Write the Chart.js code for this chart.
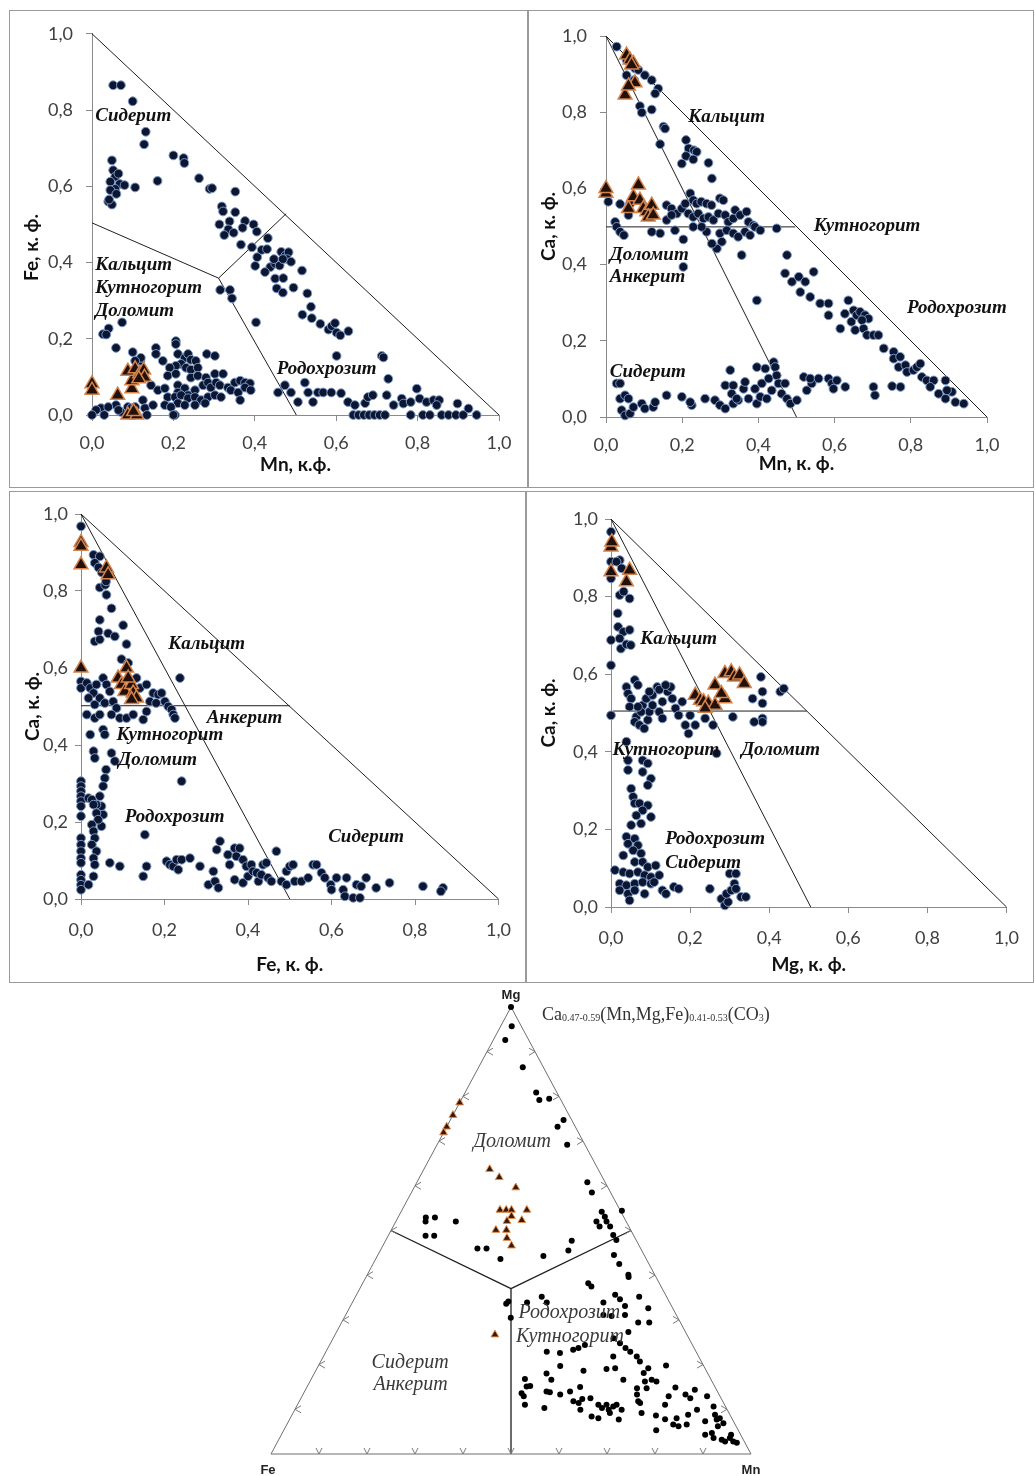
<!DOCTYPE html>
<html>
<head>
<meta charset="utf-8">
<script src="https://cdn.jsdelivr.net/npm/chart.js@4.4.1/dist/chart.umd.min.js"></script>
<style>
  body { margin: 0; background: #fff; width: 1035px; height: 1476px; position: relative; overflow: hidden; }
  .box { position: absolute; border: 1px solid #9a9a9a; box-sizing: border-box; }
  canvas { position: absolute; }
</style>
</head>
<body>
<div class="box" style="left:9px;top:10px;width:519px;height:478px"></div>
<div class="box" style="left:528px;top:10px;width:506px;height:478px"></div>
<div class="box" style="left:9px;top:491px;width:517px;height:492px"></div>
<div class="box" style="left:526px;top:491px;width:508px;height:492px"></div>

<canvas id="p1" width="518" height="477" style="left:9px;top:10px"></canvas>
<canvas id="p2" width="504" height="477" style="left:529px;top:10px"></canvas>
<canvas id="p3" width="516" height="491" style="left:9px;top:491px"></canvas>
<canvas id="p4" width="506" height="491" style="left:527px;top:491px"></canvas>
<canvas id="tern" width="560" height="491" style="left:260px;top:985px"></canvas>

<script>
'use strict';
// axis ticks shared by the four x-y plots
const tickVals = [0, 0.2, 0.4, 0.6, 0.8, 1.0];

// Mn (x) vs Fe (y)
const p1Dots = [
  [0.052,0.865],[0.071,0.865],[0.10,0.823],[0.132,0.743],[0.128,0.71],
  [0.049,0.668],[0.052,0.642],[0.057,0.625],[0.065,0.633],[0.045,0.612],[0.068,0.606],[0.057,0.593],[0.045,0.59],[0.06,0.58],[0.08,0.603],[0.106,0.597],[0.04,0.56],[0.049,0.552],[0.042,0.565],
  [0.161,0.614],[0.2,0.681],[0.225,0.674],[0.227,0.661],[0.263,0.621],[0.289,0.593],[0.295,0.595],[0.352,0.586],
  [0.319,0.547],[0.322,0.534],[0.352,0.532],[0.313,0.5],[0.338,0.508],[0.335,0.487],[0.325,0.472],[0.348,0.478],[0.376,0.509],[0.37,0.491],[0.397,0.5],[0.405,0.481],
  [0.366,0.447],[0.393,0.44],[0.417,0.433],[0.406,0.414],[0.401,0.391],[0.432,0.464],
  [0.43,0.435],[0.438,0.388],[0.425,0.375],[0.45,0.397],[0.461,0.392],[0.447,0.409],
  [0.465,0.428],[0.475,0.418],[0.483,0.427],[0.48,0.409],[0.489,0.402],[0.469,0.409],
  [0.45,0.358],[0.454,0.332],[0.469,0.321],[0.47,0.359],[0.495,0.334],
  [0.516,0.379],[0.529,0.319],[0.538,0.284],[0.517,0.263],[0.54,0.254],
  [0.561,0.239],[0.581,0.224],[0.589,0.233],[0.597,0.241],[0.601,0.216],[0.61,0.209],[0.63,0.22],[0.601,0.155],[0.712,0.155],[0.716,0.151],[0.403,0.243],[0.315,0.328],[0.339,0.328],[0.344,0.306],
  [0.027,0.212],[0.041,0.227],[0.035,0.211],[0.059,0.176],[0.074,0.243],[0.1,0.165],[0.119,0.142],
  [0.157,0.176],[0.157,0.16],[0.206,0.194],[0.206,0.186],[0.12,0.15],[0.106,0.142],[0.174,0.142],[0.211,0.16],[0.228,0.15],[0.236,0.16],[0.243,0.145],[0.255,0.142],[0.219,0.134],[0.231,0.124],[0.206,0.129],[0.191,0.124],[0.243,0.119],[0.26,0.124],[0.282,0.16],[0.302,0.155],
  [0.186,0.103],[0.206,0.108],[0.243,0.098],[0.26,0.103],[0.28,0.098],[0.302,0.108],[0.322,0.108],
  [0.145,0.078],[0.162,0.065],[0.179,0.07],[0.211,0.078],[0.228,0.07],[0.211,0.059],[0.236,0.052],[0.253,0.065],[0.273,0.078],[0.285,0.085],[0.292,0.072],[0.305,0.085],[0.314,0.078],[0.334,0.072],[0.351,0.085],[0.364,0.09],[0.376,0.085],[0.388,0.083],[0.341,0.065],[0.359,0.059],[0.376,0.072],[0.39,0.065],
  [0.186,0.047],[0.204,0.047],[0.219,0.052],[0.236,0.044],[0.253,0.047],[0.268,0.039],[0.285,0.047],[0.302,0.052],[0.317,0.047],[0.364,0.039],[0.211,0.031],[0.228,0.026],[0.253,0.026],[0.278,0.031],[0.179,0.026],[0.194,0.021],[0.125,0.039],[0.13,0.018],[0.15,0.026],[0.088,0.021],[0.096,0.018],[0.106,0.021],[0.059,0.026],[0.022,0.018],[0.04,0.021],[0.01,0.013],[0.071,0.008],[0.1,0.005],[0.065,0.013],[0.204,0],
  [0.457,0.059],[0.474,0.078],[0.489,0.059],[0.506,0.034],[0.523,0.085],[0.531,0.059],[0.543,0.034],[0.555,0.059],[0.568,0.059],[0.588,0.059],[0.612,0.057],[0.629,0.034],[0.646,0.026],[0.671,0.031],[0.678,0.047],[0.69,0.052],
  [0.728,0.095],[0.724,0.052],[0.741,0.026],[0.761,0.043],[0.765,0.03],[0.783,0.034],[0.798,0.069],[0.805,0.043],[0.822,0.034],[0.839,0.039],[0.853,0.039],[0.847,0.026],[0.898,0.03],[0.925,0.017],
  [0,0],[0.03,0],[0.135,0],[0.2,0],[0.642,0],[0.655,0],[0.668,0],[0.681,0],[0.694,0],[0.707,0],[0.72,0],[0.783,0],[0.813,0],[0.83,0],[0.859,0],[0.876,0],[0.894,0],[0.912,0],[0.945,0]
];
const p1Tri = [
  [0,0.082],[0,0.065],[0.063,0.052],[0.098,0.069],[0.098,0.09],[0.088,0.115],[0.106,0.121],[0.117,0.108],[0.127,0.118],[0.129,0.099],[0.115,0.095],[0.088,0],[0.11,0],[0.102,0.009]
];

// Mn (x) vs Ca (y)
const p2Dots = [
  [0.028,0.972],[0.054,0.937],[0.076,0.915],[0.085,0.911],[0.054,0.897],[0.102,0.897],[0.12,0.884],[0.137,0.862],[0.129,0.849],[0.089,0.816],[0.094,0.799],[0.12,0.807],[0.151,0.762],[0.155,0.757],[0.142,0.716],[0.074,0.884],
  [0.21,0.727],[0.217,0.705],[0.231,0.7],[0.238,0.696],[0.199,0.665],[0.21,0.685],[0.229,0.676],[0.269,0.667],[0.278,0.626],
  [0.006,0.565],[0.037,0.559],[0.024,0.512],[0.028,0.499],[0.037,0.486],[0.047,0.477],[0.059,0.53],[0.063,0.559],
  [0.159,0.556],[0.172,0.547],[0.186,0.534],[0.199,0.547],[0.208,0.56],[0.221,0.587],[0.229,0.569],[0.238,0.56],[0.25,0.565],[0.264,0.56],[0.277,0.556],[0.216,0.534],[0.229,0.525],[0.242,0.534],[0.256,0.521],[0.269,0.525],[0.282,0.517],[0.299,0.574],[0.308,0.569],[0.295,0.534],[0.313,0.53],[0.321,0.512],[0.334,0.521],[0.339,0.543],[0.352,0.53],[0.369,0.539],[0.374,0.512],[0.387,0.503],[0.391,0.499],[0.365,0.486],[0.378,0.477],[0.356,0.425],[0.299,0.482],[0.304,0.46],[0.291,0.442],[0.278,0.455],[0.264,0.486],[0.251,0.499],[0.229,0.499],[0.203,0.466],[0.203,0.394],[0.181,0.49],[0.159,0.517],[0.172,0.53],[0.142,0.482],[0.12,0.486],[0.317,0.49],[0.334,0.482],[0.347,0.473],[0.405,0.49],[0.448,0.495],[0.475,0.425],[0.396,0.306],
  [0.47,0.377],[0.488,0.355],[0.506,0.368],[0.523,0.355],[0.545,0.381],[0.51,0.328],[0.536,0.315],[0.562,0.298],[0.584,0.298],[0.584,0.267],[0.615,0.232],[0.636,0.306],[0.627,0.271],[0.65,0.28],[0.644,0.25],[0.658,0.267],[0.667,0.276],[0.68,0.267],[0.689,0.258],[0.672,0.254],[0.654,0.228],[0.676,0.232],[0.685,0.215],[0.702,0.215],[0.715,0.215],[0.729,0.18],[0.755,0.171],[0.755,0.153],[0.772,0.158],[0.768,0.131],[0.786,0.136],[0.79,0.118],[0.807,0.123],[0.816,0.131],[0.825,0.14],[0.829,0.105],[0.842,0.096],[0.86,0.096],[0.851,0.079],[0.873,0.061],[0.891,0.096],[0.891,0.048],[0.908,0.066],[0.917,0.039],[0.939,0.035],[0.895,0.07],
  [0.702,0.079],[0.706,0.057],[0.751,0.081],[0.773,0.079],
  [0.028,0.088],[0.037,0.088],[0.037,0.048],[0.05,0.057],[0.059,0.048],[0.041,0.018],[0.05,0.004],[0.063,0.009],[0.072,0.026],[0.094,0.035],[0.102,0.022],[0.124,0.026],[0.129,0.039],[0.159,0.057],[0.199,0.053],[0.225,0.031],[0.221,0.039],[0.26,0.048],[0.286,0.044],[0.299,0.031],[0.313,0.022],[0.313,0.083],[0.326,0.123],[0.334,0.083],[0.33,0.061],[0.334,0.035],[0.347,0.044],[0.343,0.048],[0.361,0.074],[0.365,0.092],[0.374,0.048],[0.391,0.074],[0.396,0.131],[0.396,0.035],[0.405,0.053],[0.409,0.088],[0.418,0.127],[0.422,0.048],[0.427,0.101],[0.44,0.144],[0.444,0.131],[0.448,0.109],[0.453,0.088],[0.461,0.061],[0.47,0.088],[0.475,0.048],[0.484,0.035],[0.501,0.044],[0.527,0.07],[0.519,0.105],[0.54,0.088],[0.536,0.101],[0.558,0.101],[0.584,0.101],[0.593,0.088],[0.597,0.074],[0.606,0.096],[0.628,0.079],[0.435,0.07]
];
const p2Tri = [
  [0,0.587],[0,0.6],[0.059,0.547],[0.072,0.578],[0.085,0.609],[0.089,0.569],[0.098,0.547],[0.107,0.539],[0.12,0.556],[0.111,0.525],[0.124,0.53],
  [0.054,0.95],[0.063,0.937],[0.072,0.928],[0.05,0.845],[0.076,0.877],[0.059,0.869],[0.067,0.924]
];

// Fe (x) vs Ca (y)
const p3Dots = [
  [0,0.968],[0.03,0.894],[0.045,0.89],[0.033,0.873],[0.042,0.861],[0.05,0.848],[0.045,0.809],[0.058,0.816],[0.061,0.79],[0.06,0.825],[0.073,0.755],[0.101,0.711],[0.045,0.725],[0.042,0.695],[0.033,0.669],[0.045,0.674],[0.065,0.69],[0.081,0.682],[0.097,0.623],[0.113,0.613],[0.109,0.662],[0.237,0.574],[0.241,0.306],[0.153,0.167],
  [0,0.565],[0,0.548],[0.014,0.561],[0.022,0.548],[0.03,0.535],[0.037,0.557],[0.018,0.522],[0.033,0.505],[0.045,0.522],[0.053,0.574],[0.061,0.557],[0.069,0.539],[0.057,0.509],[0.077,0.513],[0.085,0.496],[0.093,0.47],[0.073,0.479],[0.014,0.479],[0.033,0.47],[0.045,0.479],[0.141,0.548],[0.157,0.557],[0.173,0.535],[0.185,0.531],[0.193,0.535],[0.165,0.513],[0.18,0.509],[0.201,0.513],[0.209,0.5],[0.217,0.492],[0.221,0.479],[0.225,0.47],[0.157,0.487],[0.149,0.466],[0.133,0.574],[0.109,0.47],[0.125,0.479],
  [0.022,0.427],[0.03,0.384],[0.033,0.366],[0.053,0.44],[0.057,0.427],[0.073,0.379],[0.081,0.358],[0.06,0.336],[0.057,0.314],[0.053,0.293],[0.045,0.267],[0.049,0.241],[0.053,0.219],[0.049,0.189],[0.037,0.245],
  [0,0.306],[0,0.293],[0,0.28],[0,0.267],[0,0.254],[0,0.241],[0,0.215],[0,0.158],[0,0.141],[0,0.124],[0,0.106],[0,0.094],[0,0.063],[0,0.05],[0,0.037],[0,0.024],
  [0.018,0.262],[0.026,0.258],[0.03,0.245],[0.037,0.223],[0.041,0.206],[0.026,0.193],[0.03,0.176],[0.033,0.158],[0.026,0.141],[0.037,0.124],[0.03,0.106],[0.033,0.089],[0.03,0.059],[0.018,0.037],
  [0.069,0.094],[0.093,0.085],[0.149,0.059],[0.157,0.085],
  [0.205,0.098],[0.213,0.089],[0.221,0.085],[0.229,0.102],[0.233,0.076],[0.241,0.102],[0.261,0.106],[0.285,0.085],[0.305,0.037],[0.317,0.072],[0.321,0.046],[0.329,0.029],[0.333,0.15],[0.325,0.128],[0.352,0.115],[0.356,0.089],[0.368,0.132],[0.372,0.111],[0.368,0.05],[0.38,0.132],[0.388,0.102],[0.396,0.085],[0.388,0.042],[0.4,0.059],[0.408,0.089],[0.412,0.072],[0.425,0.046],[0.421,0.068],[0.436,0.089],[0.444,0.094],[0.432,0.063],[0.448,0.055],[0.468,0.124],[0.456,0.046],[0.48,0.046],[0.492,0.072],[0.492,0.037],[0.5,0.085],[0.508,0.089],[0.512,0.046],[0.528,0.046],[0.544,0.055],[0.556,0.089],[0.564,0.089],[0.576,0.068],[0.584,0.055],[0.598,0.037],[0.6,0.024],[0.612,0.055],[0.628,0.024],[0.632,0.007],[0.636,0.055],[0.66,0.037],[0.652,0.003],[0.668,0.003],[0.671,0.033],[0.683,0.055],[0.707,0.029],[0.739,0.042],[0.819,0.033],[0.867,0.029],[0.862,0.02]
];
const p3Tri = [
  [0,0.926],[0,0.916],[0,0.868],[0,0.6],[0.061,0.86],[0.065,0.842],[0.089,0.574],[0.097,0.557],[0.109,0.6],[0.105,0.539],[0.121,0.557],[0.125,0.535],[0.113,0.574],[0.133,0.522],[0.121,0.518]
];

// Mg (x) vs Ca (y)
const p4Dots = [
  [0,0.967],[0,0.89],[0.022,0.894],[0.014,0.89],[0.027,0.873],[0.022,0.804],[0.032,0.813],[0.047,0.795],[0.017,0.757],[0.018,0.722],[0.031,0.709],[0.022,0.692],[0.025,0.666],[0.039,0.677],[0.047,0.714],[0.05,0.675],[0,0.688],[0,0.623],[0,0.494],[0,0.847],
  [0.039,0.567],[0.043,0.55],[0.06,0.585],[0.068,0.572],[0.051,0.537],[0.047,0.516],[0.064,0.49],[0.06,0.477],[0.072,0.469],[0.084,0.46],[0.093,0.482],[0.097,0.503],[0.08,0.52],[0.089,0.537],[0.105,0.546],[0.117,0.567],[0.105,0.52],[0.122,0.503],[0.13,0.486],[0.13,0.529],[0.143,0.555],[0.151,0.567],[0.155,0.537],[0.163,0.512],[0.171,0.494],[0.18,0.529],[0.188,0.469],[0.196,0.447],[0.2,0.494],[0.213,0.469],[0.076,0.503],[0.068,0.516],[0.097,0.555],[0.122,0.56],[0.138,0.572],
  [0.238,0.486],[0.258,0.469],[0.267,0.396],[0.308,0.49],[0.358,0.537],[0.379,0.593],[0.383,0.555],[0.383,0.525],[0.383,0.486],[0.383,0.477],[0.362,0.477],[0.428,0.555],[0.437,0.563],
  [0.039,0.426],[0.043,0.378],[0.043,0.353],[0.08,0.378],[0.093,0.37],[0.08,0.348],[0.101,0.331],[0.093,0.314],[0.051,0.305],[0.056,0.284],[0.06,0.267],[0.072,0.267],[0.093,0.262],[0.08,0.249],[0.064,0.236],[0.101,0.232],[0.051,0.211],[0.076,0.215],[0.039,0.181],[0.06,0.176],[0.043,0.163],[0.068,0.159],[0.031,0.133],[0.056,0.146],[0.076,0.138],[0.06,0.116],[0.08,0.116],[0.093,0.103],[0.113,0.107],[0.01,0.095],[0.031,0.09],[0.047,0.086],[0.068,0.09],[0.085,0.082],[0.101,0.077],[0.022,0.06],[0.039,0.056],[0.06,0.06],[0.08,0.064],[0.101,0.06],[0.022,0.043],[0.043,0.034],[0.06,0.043],[0.085,0.034],[0.047,0.017],[0.109,0.064],[0.122,0.082],[0.13,0.043],[0.139,0.034],[0.159,0.052],[0.171,0.047],
  [0.25,0.047],[0.279,0.021],[0.288,0.004],[0.296,0.013],[0.292,0.034],[0.304,0.043],[0.3,0.086],[0.316,0.086],[0.312,0.06],[0.316,0.047],[0.329,0.026],[0.341,0.026]
];
const p4Tri = [
  [0,0.928],[0.002,0.941],[0,0.864],[0.039,0.838],[0.047,0.868],[0.213,0.546],[0.226,0.533],[0.234,0.529],[0.246,0.525],[0.263,0.52],[0.263,0.572],[0.288,0.602],[0.288,0.537],[0.304,0.606],[0.312,0.593],[0.325,0.598],[0.337,0.576],[0.279,0.55],[0.238,0.512]
];

// ternary Mg-Fe-Mn: [Mn, Mg], Fe = 1 - Mn - Mg
const ternDots = [
  [0,1],[0.023,0.957],[0.025,0.926],[0.092,0.865],[0.148,0.809],[0.163,0.792],[0.182,0.795],[0.236,0.747],[0.231,0.732],[0.271,0.692],[0.355,0.608],[0.376,0.585],[0.418,0.542],[0.43,0.531],[0.439,0.52],[0.452,0.509],[0.418,0.52],[0.43,0.509],[0.468,0.49],[0.48,0.479],[0.459,0.544],[0.492,0.445],[0.513,0.425],[0.544,0.401],[0.547,0.396],[0.47,0.382],[0.48,0.375],[0.539,0.356],[0.554,0.346],[0.591,0.352],[0.572,0.331],[0.623,0.326],[0.555,0.309],[0.582,0.311],[0.618,0.294],[0.641,0.294],[0.608,0.273],[0.584,0.259],[0.603,0.248],[0.62,0.237],[0.634,0.229],[0.653,0.218],[0.665,0.207],[0.69,0.192],[0.604,0.218],[0.686,0.181],[0.698,0.162],[0.71,0.166],[0.722,0.162],[0.709,0.147],[0.724,0.198],[0.604,0.19],[0.621,0.192],[0.651,0.166],[0.689,0.147],[0.712,0.114],[0.726,0.092],[0.759,0.086],[0.776,0.053],[0.782,0.078],[0.768,0.149],[0.797,0.133],[0.811,0.125],[0.811,0.144],[0.838,0.099],[0.844,0.129],[0.868,0.073],[0.805,0.08],[0.825,0.088],[0.818,0.062],[0.833,0.066],[0.805,0.066],[0.869,0.106],[0.881,0.088],[0.89,0.077],[0.895,0.08],[0.908,0.069],[0.9,0.062],[0.895,0.047],[0.883,0.043],[0.904,0.036],[0.923,0.032],[0.932,0.028],[0.938,0.036],[0.937,0.043],[0.949,0.028],[0.958,0.025],
  [0.324,0.341],[0.322,0.336],[0.347,0.305],[0.364,0.339],[0.388,0.352],[0.405,0.339],[0.523,0.339],[0.537,0.311],[0.46,0.229],[0.489,0.226],[0.513,0.233],[0.522,0.237],[0.532,0.244],[0.504,0.197],[0.558,0.186],[0.484,0.18],[0.501,0.166],[0.445,0.168],[0.457,0.151],[0.464,0.152],[0.504,0.14],[0.512,0.138],[0.536,0.133],[0.553,0.14],[0.569,0.15],[0.571,0.118],[0.584,0.114],[0.587,0.123],[0.603,0.125],[0.595,0.099],[0.626,0.084],[0.642,0.08],[0.627,0.11],[0.638,0.103],[0.644,0.11],[0.654,0.099],[0.66,0.092],[0.66,0.106],[0.665,0.11],[0.681,0.099],[0.686,0.077],[0.454,0.136],[0.462,0.129],[0.474,0.11],[0.518,0.103],[0.696,0.133],[0.706,0.118],[0.766,0.11],[0.764,0.129],
  [0.388,0.477],[0.392,0.455],[0.346,0.443],[0.26,0.436],[0.2,0.46],[0.219,0.46],[0.125,0.52],[0.058,0.529],[0.062,0.52],[0.077,0.529],[0.078,0.488],[0.096,0.488]
];
const ternTri = [
  [0,0.786],[0,0.758],[0,0.732],[0,0.719],[0.137,0.637],[0.166,0.619],[0.212,0.596],[0.204,0.546],[0.217,0.546],[0.228,0.546],[0.26,0.546],[0.235,0.532],[0.231,0.521],[0.261,0.523],[0.218,0.501],[0.24,0.501],[0.25,0.483],[0.268,0.466],[0.333,0.267]
];
// field boundaries of the ternary: centre and edge mid points [Mn, Mg]
const ternCentre = [0.315, 0.37];
const ternEdgeMids = [[0, 0.5], [0.5, 0.5], [0.5, 0]];

const fmt = v => v.toFixed(1).replace('.', ',');
const pts = arr => arr.map(p => ({x: p[0], y: p[1]}));

function zonePlugin(items) {
  return {
    id: 'zones',
    afterDatasetsDraw(chart) {
      const {ctx, scales: {x, y}} = chart;
      ctx.save();
      ctx.font = 'italic bold 19px "Liberation Serif"';
      ctx.fillStyle = '#111';
      ctx.textAlign = 'left';
      ctx.textBaseline = 'middle';
      items.forEach(it => ctx.fillText(it[0], x.getPixelForValue(it[1]), y.getPixelForValue(it[2])));
      ctx.restore();
    }
  };
}

function panel(id, c) {
  const datasets = c.lines.map(l => ({
    data: pts(l), showLine: true, borderColor: '#1e1e1e', borderWidth: 1,
    pointRadius: 0, order: 3, clip: false
  }));
  datasets.push({
    data: pts(c.dots), pointStyle: 'circle', pointRadius: 4.4,
    backgroundColor: '#0c1630', borderColor: '#7b98c8', borderWidth: 1, order: 2, clip: false
  });
  datasets.push({
    data: pts(c.tris), pointStyle: 'triangle', pointRadius: 8,
    backgroundColor: '#22100a', borderColor: '#d4834a', borderWidth: 1.5, order: 1, clip: false
  });
  const axisCol = '#8a8a8a';
  new Chart(document.getElementById(id), {
    type: 'scatter',
    data: {datasets},
    options: {
      responsive: false, animation: false, devicePixelRatio: 1,
      layout: {padding: {top: c.padTop, right: c.padRight, left: 0, bottom: 0}},
      plugins: {legend: {display: false}, tooltip: {enabled: false}},
      scales: {
        x: {
          type: 'linear', min: 0, max: 1,
          afterBuildTicks: s => { s.ticks = tickVals.map(v => ({value: v})); },
          ticks: {callback: fmt, color: '#404040', font: {family: 'Lato', size: 18}, padding: c.xTickPad, maxRotation: 0},
          grid: {drawOnChartArea: false, tickLength: 6, color: axisCol},
          border: {color: axisCol},
          title: {display: true, text: c.xTitle, color: '#111', font: {family: 'Lato', size: 19, weight: 'bold'}, padding: {top: 0, bottom: c.xTitlePad}},
          afterFit: s => { s.height = c.xH; }
        },
        y: {
          type: 'linear', min: 0, max: 1,
          afterBuildTicks: s => { s.ticks = tickVals.map(v => ({value: v})); },
          ticks: {callback: fmt, color: '#404040', font: {family: 'Lato', size: 18}, padding: c.yTickPad},
          grid: {drawOnChartArea: false, tickLength: 6, color: axisCol},
          border: {color: axisCol},
          title: {display: true, text: c.yTitle, color: '#111', font: {family: 'Lato', size: 19, weight: 'bold'}, padding: {top: c.yTitlePad, bottom: 0}},
          afterFit: s => { s.width = c.yW; }
        }
      }
    },
    plugins: [zonePlugin(c.zones)]
  });
}

panel('p1', {
  dots: p1Dots, tris: p1Tri,
  lines: [[[0,1],[1,0]], [[0,0.504],[0.311,0.359],[0.502,0]], [[0.311,0.359],[0.477,0.528]]],
  // trailing spaces push the rotated title a little lower, as in the original
  xTitle: 'Mn, к.ф.', yTitle: 'Fe, к. ф.          ',
  yW: 83, xH: 72, padTop: 18, padRight: 28, yTickPad: 13, xTickPad: 11, yTitlePad: 11, xTitlePad: 11,
  zones: [['Сидерит',0.008,0.784],['Кальцит',0.008,0.392],['Кутногорит',0.008,0.332],['Доломит',0.008,0.272],['Родохрозит',0.454,0.121]]
});
panel('p2', {
  dots: p2Dots, tris: p2Tri,
  lines: [[[0,1],[1,0]], [[0,1],[0.5,0]], [[0,0.499],[0.497,0.499]]],
  xTitle: 'Mn, к. ф.', yTitle: 'Ca, к. ф.',
  yW: 77, xH: 70, padTop: 26, padRight: 46, yTickPad: 13, xTickPad: 11, yTitlePad: 8, xTitlePad: 12,
  zones: [['Кальцит',0.216,0.788],['Кутногорит',0.545,0.501],['Доломит',0.01,0.425],['Анкерит',0.01,0.366],['Родохрозит',0.79,0.285],['Сидерит',0.01,0.118]]
});
panel('p3', {
  dots: p3Dots, tris: p3Tri,
  lines: [[[0,1],[1,0]], [[0,1],[0.5,0]], [[0,0.502],[0.5,0.502]]],
  xTitle: 'Fe, к. ф.', yTitle: 'Ca, к. ф.',
  yW: 72, xH: 83, padTop: 23, padRight: 26, yTickPad: 7, xTickPad: 14, yTitlePad: 12, xTitlePad: 6,
  zones: [['Кальцит',0.209,0.661],['Анкерит',0.301,0.47],['Кутногорит',0.085,0.425],['Доломит',0.089,0.362],['Родохрозит',0.105,0.212],['Сидерит',0.592,0.16]]
});
panel('p4', {
  dots: p4Dots, tris: p4Tri,
  lines: [[[0,1],[1,0]], [[0,1],[0.505,0]], [[0.005,0.505],[0.495,0.505]]],
  xTitle: 'Mg, к. ф.', yTitle: 'Ca, к. ф.',
  yW: 84, xH: 75, padTop: 28, padRight: 20, yTickPad: 7, xTickPad: 14, yTitlePad: 10, xTitlePad: 6,
  zones: [['Кальцит',0.074,0.69],['Кутногорит',0.004,0.404],['Доломит',0.329,0.404],['Родохрозит',0.137,0.176],['Сидерит',0.137,0.112]]
});

// ternary: composition [Mn, Mg] -> plot position
const tern = p => ({x: p[0] + p[1] / 2, y: p[1]});

const ternExtras = {
  id: 'ternExtras',
  afterDatasetsDraw(chart) {
    const {ctx, scales: {x, y}} = chart;
    const P = p => { const t = tern(p); return [x.getPixelForValue(t.x), y.getPixelForValue(t.y)]; };
    ctx.save();
    // small chevron ticks along the sides
    ctx.strokeStyle = '#7a7a7a';
    ctx.lineWidth = 1;
    const chev = (pt, dx1, dy1, dx2, dy2) => {
      ctx.beginPath();
      ctx.moveTo(pt[0] + dx1, pt[1] + dy1);
      ctx.lineTo(pt[0], pt[1]);
      ctx.lineTo(pt[0] + dx2, pt[1] + dy2);
      ctx.stroke();
    };
    for (let i = 1; i <= 9; i++) {
      const f = i / 10;
      chev(P([f, 0]), -3, -6, 3, -6);
      chev(P([0, f]), 6, -3.5, 6, 3.5);
      chev(P([1 - f, f]), -6, -3.5, -6, 3.5);
    }
    // corner labels
    ctx.fillStyle = '#222';
    ctx.font = 'bold 13px "Liberation Sans"';
    ctx.textAlign = 'center';
    ctx.textBaseline = 'middle';
    const top = P([0, 1]), fe = P([0, 0]), mn = P([1, 0]);
    ctx.fillText('Mg', top[0], top[1] - 12);
    ctx.fillText('Fe', fe[0] - 3, fe[1] + 16);
    ctx.fillText('Mn', mn[0], mn[1] + 16);
    // formula
    let fx = top[0] + 31;
    const fy = top[1] + 13;
    ctx.textAlign = 'left';
    ctx.textBaseline = 'alphabetic';
    ctx.fillStyle = '#333';
    const part = (txt, sub) => {
      ctx.font = sub ? '10px "Liberation Serif"' : '18px "Liberation Serif"';
      ctx.fillText(txt, fx, sub ? fy + 1 : fy);
      fx += ctx.measureText(txt).width;
    };
    part('Ca'); part('0.47-0.59', true); part('(Mn,Mg,Fe)'); part('0.41-0.53', true); part('(CO'); part('3', true); part(')');
    // field names
    ctx.font = 'italic 20px "Liberation Serif"';
    ctx.fillStyle = '#3a3a3a';
    ctx.textBaseline = 'middle';
    ctx.textAlign = 'left';
    const lab = (t, p) => { const q = P(p); ctx.fillText(t, q[0], q[1]); };
    lab('Доломит', [0.0725, 0.698]);
    lab('Родохрозит', [0.358, 0.315]);
    lab('Кутногорит', [0.379, 0.263]);
    lab('Сидерит', [0.107, 0.205]);
    lab('Анкерит', [0.136, 0.155]);
    ctx.restore();
  }
};

new Chart(document.getElementById('tern'), {
  type: 'scatter',
  data: {
    datasets: [
      {data: [[0,0],[1,0],[0,1],[0,0]].map(tern), showLine: true, borderColor: '#6e6e6e', borderWidth: 1, pointRadius: 0, order: 4, clip: false},
      ...ternEdgeMids.map(m => ({data: [ternCentre, m].map(tern), showLine: true, borderColor: '#1e1e1e', borderWidth: 1.3, pointRadius: 0, order: 3, clip: false})),
      {data: ternDots.map(tern), pointStyle: 'circle', pointRadius: 3, backgroundColor: '#000', borderWidth: 0, order: 2, clip: false},
      {data: ternTri.map(tern), pointStyle: 'triangle', pointRadius: 4.5, backgroundColor: '#3a1806', borderColor: '#e28c4e', borderWidth: 1, order: 1, clip: false}
    ]
  },
  options: {
    responsive: false, animation: false, devicePixelRatio: 1,
    layout: {padding: {left: 11, right: 69, top: 22, bottom: 22}},
    plugins: {legend: {display: false}, tooltip: {enabled: false}},
    scales: {
      x: {type: 'linear', min: 0, max: 1, display: false},
      y: {type: 'linear', min: 0, max: 1, display: false}
    }
  },
  plugins: [ternExtras]
});
</script>
</body>
</html>
